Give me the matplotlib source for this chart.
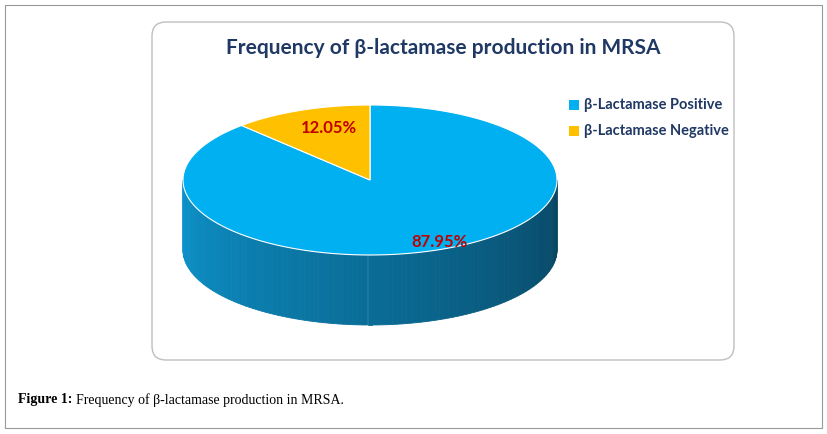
import matplotlib.pyplot as plt
import numpy as np
from matplotlib.patches import Polygon, FancyBboxPatch, Rectangle

labels = ["β-Lactamase Positive", "β-Lactamase Negative"]
values = [87.95, 12.05]
colors = ["#00b0f0", "#ffc000"]

fig = plt.figure(figsize=(8.28, 4.34), dpi=100)
ax = fig.add_axes([0, 0, 1, 1])
ax.set_xlim(0, 828)
ax.set_ylim(434, 0)
ax.axis("off")

# outer frame and chart box
ax.add_patch(Rectangle((5, 5), 817, 423, fill=False, ec="#999999", lw=0.8))
ax.add_patch(FancyBboxPatch((152, 22), 582, 338, boxstyle="round,pad=0,rounding_size=14",
                            fc="white", ec="#bfbfbf", lw=1))

ax.text(443, 48, "Frequency of β-lactamase production in MRSA", ha="center", va="center",
        fontsize=15, fontweight="bold", color="#1f3864", family="Lato")

cx, cy, rx, ry, depth = 370, 180, 187, 75, 70

def pt(a):
    r = np.radians(a)
    return cx + rx * np.cos(r), cy - ry * np.sin(r)

# side wall (front half) with shading
steps = np.linspace(180, 360, 120)
for i in range(len(steps) - 1):
    a0, a1 = steps[i], steps[i + 1]
    x0, y0 = pt(a0)
    x1, y1 = pt(a1)
    t = i / (len(steps) - 1)
    c = np.array([0.05, 0.58, 0.80]) * (1 - t) + np.array([0.03, 0.27, 0.38]) * t
    ax.add_patch(Polygon([(x0, y0), (x1, y1), (x1, y1 + depth), (x0, y0 + depth)],
                         closed=True, fc=c, ec=c, lw=0.6))

# top face wedges: negative slice counterclockwise from 12 o'clock
start = 90
neg_end = start + 360 * values[1] / sum(values)
spans = [(neg_end, start + 360), (start, neg_end)]
for (a0, a1), col in zip(spans, colors):
    angs = np.linspace(a0, a1, 200)
    pts = [(cx, cy)] + [pt(a) for a in angs]
    ax.add_patch(Polygon(pts, closed=True, fc=col, ec="white", lw=0.8))

ax.text(440, 242, f"{values[0]:.2f}%", ha="center", va="center", fontsize=12,
        fontweight="bold", color="#c00000", family="Lato")
ax.text(329, 128, f"{values[1]:.2f}%", ha="center", va="center", fontsize=12,
        fontweight="bold", color="#c00000", family="Lato")

for i, (lab, col) in enumerate(zip(labels, colors)):
    y = 105 + 26 * i
    ax.add_patch(Rectangle((569, y - 5), 10, 10, fc=col, ec="none"))
    ax.text(584, y, lab, va="center", fontsize=10.5, fontweight="bold", color="#1f3864",
            family="Lato")

ax.text(18, 400, "Figure 1:", fontsize=10, fontweight="bold", family="Liberation Serif", va="center")
ax.text(76, 400, "Frequency of β-lactamase production in MRSA.", fontsize=10,
        family="Liberation Serif", va="center")

fig.savefig("out.png", dpi=100)
